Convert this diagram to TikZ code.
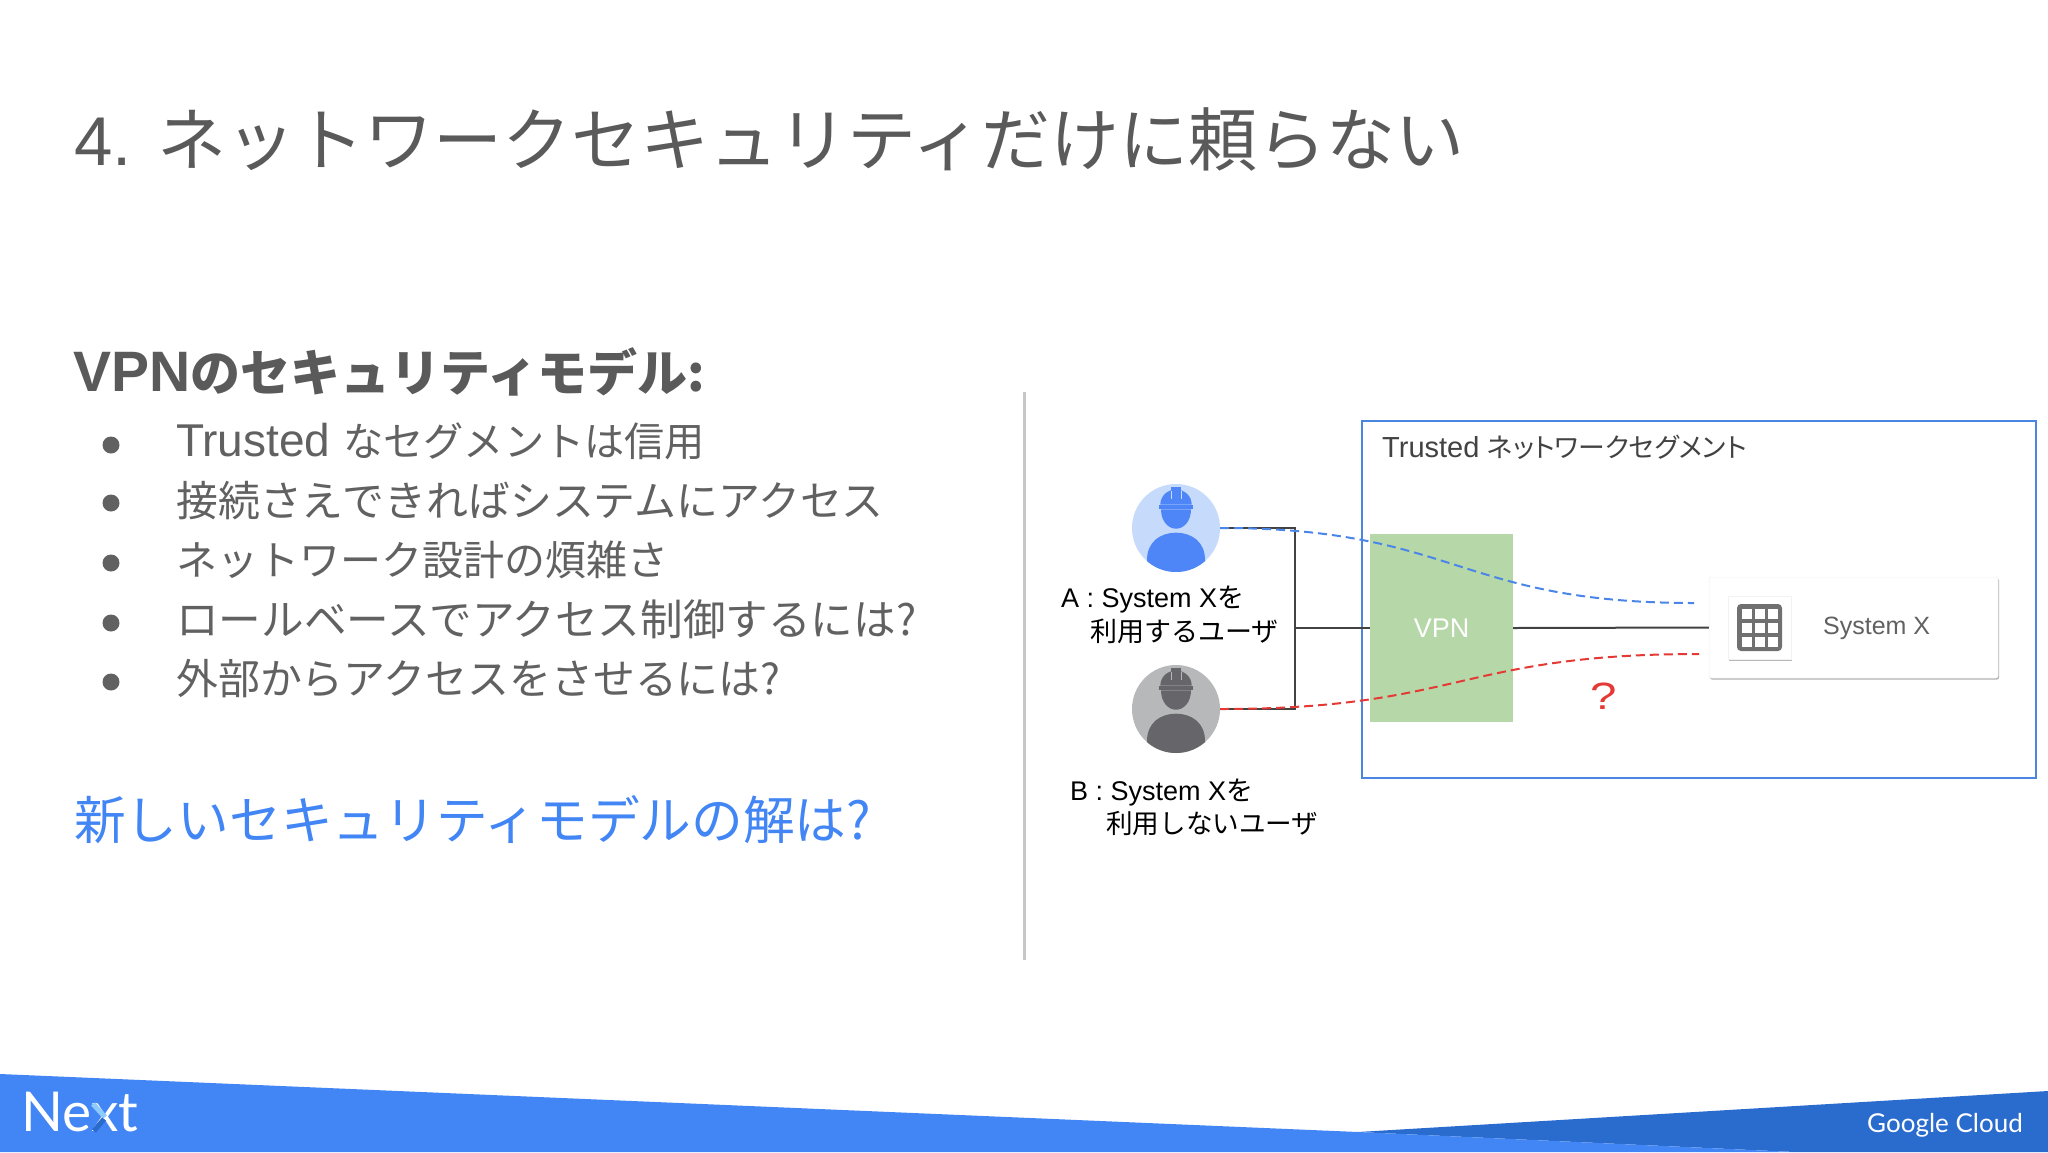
\documentclass[tikz,border=0pt]{standalone}
\usepackage{fontspec}
\usepackage{graphicx}
\setmainfont{Liberation Sans}
\newfontfamily\jp{Noto Sans CJK JP}
\newfontfamily\jpp[RawFeature={+palt}]{Noto Sans CJK JP}
\usetikzlibrary{shadows}
\newcommand{\fs}[1]{\fontsize{#1}{#1}\selectfont}
\definecolor{titlegray}{HTML}{5A5A5A}
\definecolor{bodygray}{HTML}{616161}
\definecolor{gblue}{HTML}{4285F4}
\definecolor{gbluedark}{HTML}{2A6BCE}
\definecolor{boxblue}{HTML}{4A86E0}
\definecolor{vpngreen}{HTML}{B6D7A8}
\definecolor{dashblue}{HTML}{4A86E8}
\definecolor{dashred}{HTML}{E53935}
\definecolor{linegray}{HTML}{424242}
\definecolor{palea}{HTML}{C6DAFC}
\definecolor{darka}{HTML}{4F86F7}
\definecolor{paleb}{HTML}{B7B8BA}
\definecolor{darkb}{HTML}{66666A}
\definecolor{iconcol}{HTML}{707070}
\definecolor{xlight}{HTML}{8CCBFA}
\newcommand{\personfig}[4]{%
\begin{scope}[shift={(#1,#2)}]
\begin{scope}
\clip (0,0) circle (44pt);
\fill[#4] (-29,46) -- (-29,32) .. controls (-29,14) and (-16,4.7) .. (0,4.7) .. controls (16,4.7) and (29,14) .. (29,32) -- (29,46) -- cycle;
\end{scope}
\fill[#4] (-15,-18.7) .. controls (-15,-7) and (-8,0.7) .. (0,0.7) .. controls (8,0.7) and (15,-7) .. (15,-18.7) -- cycle;
\fill[#4] (-16.7,-22.7) rectangle (16.7,-18.7);
\fill[#4] (-15.7,-23.4) .. controls (-15.7,-32) and (-8.7,-38.4) .. (0,-38.4) .. controls (8.7,-38.4) and (15.7,-32) .. (15.7,-23.4) -- cycle;
\fill[#4] (-4.7,-41) rectangle (4.7,-30);
\draw[#3,line width=0.8pt] (-4.9,-37) -- (-4.9,-29);
\draw[#3,line width=0.8pt] (4.9,-37) -- (4.9,-29);
\end{scope}}
\tikzset{
  x=1pt,y=-1pt,
  txt/.style={inner sep=0pt,anchor=west,align=left},
  bullet/.style={circle,fill=bodygray,draw=none,inner sep=0pt,minimum size=17pt},
  bodytxt/.style={txt,text=bodygray},
  blacktxt/.style={txt,text=black,font=\fs{27}},
  conn/.style={draw=linegray,line width=2pt},
  dashb/.style={draw=dashblue,line width=2pt,dash pattern=on 9pt off 5pt},
  dashr/.style={draw=dashred,line width=2pt,dash pattern=on 9pt off 5pt},
}
\begin{document}
\begin{tikzpicture}
\useasboundingbox (0,0) rectangle (2048,1152);
\fill[white] (0,0) rectangle (2048,1152);
% footer band
\fill[gbluedark] (1358,1132) -- (2048,1091) -- (2048,1152) -- (1795,1152) -- cycle;
\fill[gblue] (0,1074) -- (1358,1132) -- (1795,1152) -- (0,1152) -- cycle;
% title and left column
\node[txt,text=titlegray,font=\fs{69}] (title) at (74,139) {4. {\jp ネットワークセキュリティだけに頼らない}};
\node[txt,text=titlegray,font=\fs{57}\bfseries] (head) at (73,372) {VPN{\jp\bfseries\fs{50}のセキュリティモデル:}};
\node[bullet] (b1) at (111,445) {};
\node[bullet] (b2) at (111,503) {};
\node[bullet] (b3) at (111,563) {};
\node[bullet] (b4) at (111,623) {};
\node[bullet] (b5) at (111,682) {};
\node[bodytxt,font=\fs{46}] (t1) at (176,441) {Trusted {\jp\fs{40.2}なセグメントは信用}};
\node[bodytxt,font=\fs{41.9}] (t2) at (176,501) {\jp 接続さえできればシステムにアクセス};
\node[bodytxt,font=\fs{41}] (t3) at (176,560) {\jp ネットワーク設計の煩雑さ};
\node[bodytxt,font=\fs{42.6}] (t4) at (176,619) {\jp ロールベースでアクセス制御するには?};
\node[bodytxt,font=\fs{41.9}] (t5) at (176,679) {\jp 外部からアクセスをさせるには?};
\node[txt,text=gblue,font=\fs{51.7}] (q) at (74,820) {\jp 新しいセキュリティモデルの解は?};
% divider
\coordinate (d1) at (1024,392);
\coordinate (d2) at (1024,960);
\draw[draw=black!22,line width=3pt] (d1) -- (d2);
% trusted box
\node[draw=boxblue,line width=2.5pt,fill=white,minimum width=674pt,minimum height=357pt,inner sep=0pt] (seg) at (1699,599.5) {};
\node[txt,text=linegray,font=\fs{29}] (segl) at (1382,447) {Trusted\hspace{8pt}{\jpp\fs{26.8}ネットワークセグメント}};
% VPN
\node[fill=vpngreen,minimum width=143pt,minimum height=188pt,inner sep=0pt,text=white,font=\fs{27}] (vpn) at (1441.5,628) {VPN};
% card
\node[fill=white,draw=black!6,line width=0.5pt,rounded corners=2pt,minimum width=289pt,minimum height=101pt,inner sep=0pt,general shadow={fill=black!30,shadow yshift=-1.5pt,shadow xshift=1pt}] (card) at (1853.5,627.5) {};
\node[fill=white,draw=black!5,line width=0.5pt,minimum width=63pt,minimum height=63pt,inner sep=0pt,general shadow={fill=black!28,shadow yshift=-1.5pt,shadow xshift=0.6pt}] (ibox) at (1759.5,627.5) {};
\fill[iconcol,rounded corners=4pt] (1737,604) rectangle (1782,651);
\foreach \cx in {1742,1755,1768} \foreach \cy in {609,623,637} \fill[white] (\cx,\cy) rectangle ++(9.5,10);
\node[txt,text=bodygray,font=\fs{25}] (sysx) at (1823,628) {System X};
% persons
\node[circle,fill=palea,minimum size=88pt,inner sep=0pt] (pa) at (1176,528) {};
\node[circle,fill=paleb,minimum size=88pt,inner sep=0pt] (pb) at (1176,709) {};
\personfig{1176}{528}{palea}{darka}
\personfig{1176}{709}{paleb}{darkb}
% connectors
\coordinate (bj) at (1295,628);
\draw[conn] (pa.east) -| (bj) |- (pb.east);
\draw[conn] (bj) -- (vpn.west);
\draw[conn] (vpn.east) -- (card.west);
\coordinate (ea) at (1694,603);
\coordinate (eb) at (1699,654);
\draw[dashb] (pa.east) .. controls (1457,528) and (1457,603) .. (ea);
\draw[dashr] (pb.east) .. controls (1460,709) and (1460,654) .. (eb);
\node[text=dashred,font=\fs{38},inner sep=0pt] (qm) at (1604,696) {\scalebox{1.25}[1]{?}};
% labels
\node[blacktxt] (la1) at (1061,600) {A : System X{\jp を}};
\node[blacktxt] (la2) at (1090,631) {\jp 利用するユーザ};
\node[blacktxt] (lb1) at (1070,793) {B : System X{\jp を}};
\node[blacktxt,font=\fs{26.6}] (lb2) at (1106,824) {\jp 利用しないユーザ};
% logos
\node[inner sep=0pt,anchor=base west,text=white,font=\fs{55}\fontspec{Lato}] (next) at (21,1131) {Next};
\coordinate (x1) at (93,1104);
\coordinate (x2) at (105,1117);
\coordinate (x3) at (104,1119);
\coordinate (x4) at (94,1131);
\draw[draw=xlight,line width=5pt] (x1) -- (x2);
\draw[draw=gbluedark,line width=5pt] (x3) -- (x4);
\node[txt,text=white,font=\fs{26}\fontspec{Lato}] (gc) at (1867,1125) {Google Cloud};
\end{tikzpicture}
\end{document}
